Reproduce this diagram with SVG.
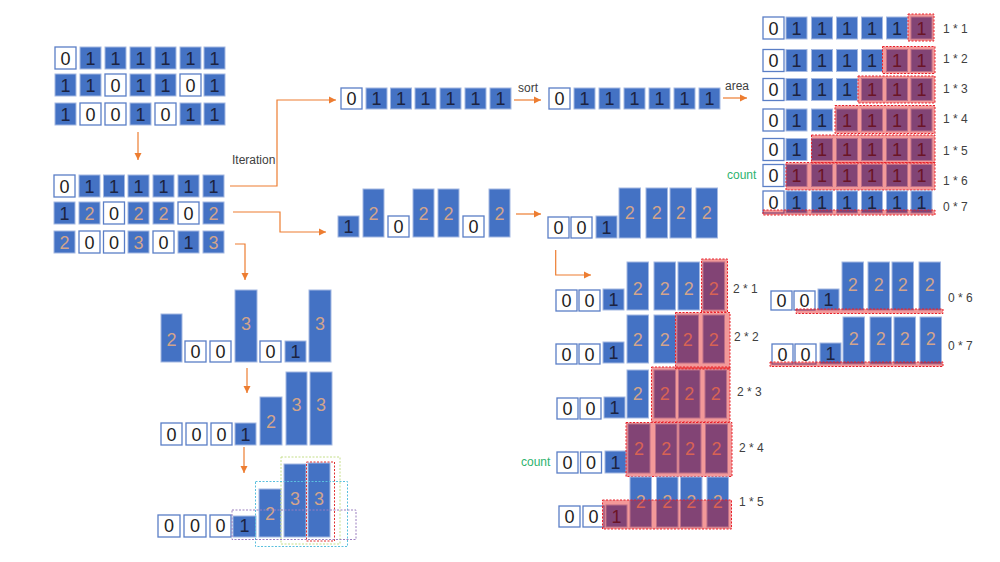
<svg xmlns="http://www.w3.org/2000/svg" width="1000" height="562" viewBox="0 0 1000 562">
<style>
text{font-family:"Liberation Sans",Arial,sans-serif}
.b{fill:#4472C4;stroke:#A3B8E2;stroke-width:1}
.w{fill:#fff;stroke:#5A7EC6;stroke-width:1.3}
.d{font-size:18px;text-anchor:middle}
.k{fill:#1C2340}
.o{fill:#D2A48C}
.z{fill:#222}
.hl{fill:#E00000;fill-opacity:0.4;stroke:#E8202A;stroke-width:1;stroke-dasharray:2 1.5}
.lb{font-size:12px;fill:#404040}
.cnt{font-size:12px;fill:#2DB36E}
.arr{fill:none;stroke:#ED7D31;stroke-width:1.2;marker-end:url(#ah)}
.bx{fill:none;stroke-width:1;stroke-dasharray:2 1.5}
</style>
<defs>
<marker id="ah" markerWidth="8" markerHeight="8" refX="7" refY="4" orient="auto" markerUnits="userSpaceOnUse">
<path d="M0,0.5 L7,4 L0,7.5 Z" fill="#ED7D31"/>
</marker>
</defs>
<rect width="1000" height="562" fill="#fff"/>

<g id="connectors">
<path class="arr" d="M138,132 V160"/>
<path class="arr" d="M230,186 H277 V100 H336"/>
<path class="arr" d="M233,212 H280 V232 H326"/>
<path class="arr" d="M235,244 H245 V280"/>
<path class="arr" d="M514,100 H541"/>
<path class="arr" d="M723,98 H747"/>
<path class="arr" d="M516,214 H541"/>
<path class="arr" d="M555.7,250 V275 H591"/>
<path class="arr" d="M247,368 V393"/>
<path class="arr" d="M244,447 V473"/>
<text class="lb" x="232" y="164">Iteration</text>
<text class="lb" x="518" y="92">sort</text>
<text class="lb" x="725" y="90">area</text>
</g>

<g id="matrix">
<rect class="w" x="55" y="47" width="21" height="22"/><text class="d z" x="65.5" y="64.5">0</text>
<rect class="b" x="80" y="47" width="21" height="22"/><text class="d k" x="90.5" y="64.5">1</text>
<rect class="b" x="105" y="47" width="21" height="22"/><text class="d k" x="115.5" y="64.5">1</text>
<rect class="b" x="130" y="47" width="21" height="22"/><text class="d k" x="140.5" y="64.5">1</text>
<rect class="b" x="155" y="47" width="21" height="22"/><text class="d k" x="165.5" y="64.5">1</text>
<rect class="b" x="180" y="47" width="21" height="22"/><text class="d k" x="190.5" y="64.5">1</text>
<rect class="b" x="204" y="47" width="21" height="22"/><text class="d k" x="214.5" y="64.5">1</text>

<rect class="b" x="55" y="74" width="21" height="22"/><text class="d k" x="65.5" y="91.5">1</text>
<rect class="b" x="80" y="74" width="21" height="22"/><text class="d k" x="90.5" y="91.5">1</text>
<rect class="w" x="105" y="74" width="21" height="22"/><text class="d z" x="115.5" y="91.5">0</text>
<rect class="b" x="130" y="74" width="21" height="22"/><text class="d k" x="140.5" y="91.5">1</text>
<rect class="b" x="155" y="74" width="21" height="22"/><text class="d k" x="165.5" y="91.5">1</text>
<rect class="w" x="180" y="74" width="21" height="22"/><text class="d z" x="190.5" y="91.5">0</text>
<rect class="b" x="204" y="74" width="21" height="22"/><text class="d k" x="214.5" y="91.5">1</text>

<rect class="b" x="55" y="103" width="21" height="22"/><text class="d k" x="65.5" y="120.5">1</text>
<rect class="w" x="80" y="103" width="21" height="22"/><text class="d z" x="90.5" y="120.5">0</text>
<rect class="w" x="105" y="103" width="21" height="22"/><text class="d z" x="115.5" y="120.5">0</text>
<rect class="b" x="130" y="103" width="21" height="22"/><text class="d k" x="140.5" y="120.5">1</text>
<rect class="w" x="155" y="103" width="21" height="22"/><text class="d z" x="165.5" y="120.5">0</text>
<rect class="b" x="180" y="103" width="21" height="22"/><text class="d k" x="190.5" y="120.5">1</text>
<rect class="b" x="204" y="103" width="21" height="22"/><text class="d k" x="214.5" y="120.5">1</text>
</g>

<g id="heights">
<rect class="w" x="54" y="175" width="21" height="22"/><text class="d z" x="64.5" y="192.5">0</text>
<rect class="b" x="79" y="175" width="21" height="22"/><text class="d k" x="89.5" y="192.5">1</text>
<rect class="b" x="103.5" y="175" width="21" height="22"/><text class="d k" x="114" y="192.5">1</text>
<rect class="b" x="128" y="175" width="21" height="22"/><text class="d k" x="138.5" y="192.5">1</text>
<rect class="b" x="153" y="175" width="21" height="22"/><text class="d k" x="163.5" y="192.5">1</text>
<rect class="b" x="178" y="175" width="21" height="22"/><text class="d k" x="188.5" y="192.5">1</text>
<rect class="b" x="203" y="175" width="21" height="22"/><text class="d k" x="213.5" y="192.5">1</text>

<rect class="b" x="54" y="202" width="21" height="22"/><text class="d k" x="64.5" y="219.5">1</text>
<rect class="b" x="79" y="202" width="21" height="22"/><text class="d o" x="89.5" y="219.5">2</text>
<rect class="w" x="103.5" y="202" width="21" height="22"/><text class="d z" x="114" y="219.5">0</text>
<rect class="b" x="128" y="202" width="21" height="22"/><text class="d o" x="138.5" y="219.5">2</text>
<rect class="b" x="153" y="202" width="21" height="22"/><text class="d o" x="163.5" y="219.5">2</text>
<rect class="w" x="178" y="202" width="21" height="22"/><text class="d z" x="188.5" y="219.5">0</text>
<rect class="b" x="203" y="202" width="21" height="22"/><text class="d o" x="213.5" y="219.5">2</text>

<rect class="b" x="54" y="231" width="21" height="22"/><text class="d o" x="64.5" y="248.5">2</text>
<rect class="w" x="79" y="231" width="21" height="22"/><text class="d z" x="89.5" y="248.5">0</text>
<rect class="w" x="103.5" y="231" width="21" height="22"/><text class="d z" x="114" y="248.5">0</text>
<rect class="b" x="128" y="231" width="21" height="22"/><text class="d o" x="138.5" y="248.5">3</text>
<rect class="w" x="153" y="231" width="21" height="22"/><text class="d z" x="163.5" y="248.5">0</text>
<rect class="b" x="178" y="231" width="21" height="22"/><text class="d k" x="188.5" y="248.5">1</text>
<rect class="b" x="203" y="231" width="21" height="22"/><text class="d o" x="213.5" y="248.5">3</text>
</g>

<g id="row1">
<rect class="w" x="341" y="88" width="21" height="21"/><text class="d z" x="351.5" y="105">0</text>
<rect class="b" x="366" y="88" width="21" height="21"/><text class="d k" x="376.5" y="105">1</text>
<rect class="b" x="390.5" y="88" width="21" height="21"/><text class="d k" x="401" y="105">1</text>
<rect class="b" x="415" y="88" width="21" height="21"/><text class="d k" x="425.5" y="105">1</text>
<rect class="b" x="440" y="88" width="21" height="21"/><text class="d k" x="450.5" y="105">1</text>
<rect class="b" x="465" y="88" width="21" height="21"/><text class="d k" x="475.5" y="105">1</text>
<rect class="b" x="490" y="88" width="21" height="21"/><text class="d k" x="500.5" y="105">1</text>
</g>

<g id="row1sorted">
<rect class="w" x="549" y="88" width="21" height="21"/><text class="d z" x="559.5" y="105">0</text>
<rect class="b" x="574" y="88" width="21" height="21"/><text class="d k" x="584.5" y="105">1</text>
<rect class="b" x="599" y="88" width="21" height="21"/><text class="d k" x="609.5" y="105">1</text>
<rect class="b" x="624" y="88" width="21" height="21"/><text class="d k" x="634.5" y="105">1</text>
<rect class="b" x="649" y="88" width="21" height="21"/><text class="d k" x="659.5" y="105">1</text>
<rect class="b" x="674" y="88" width="21" height="21"/><text class="d k" x="684.5" y="105">1</text>
<rect class="b" x="699" y="88" width="21" height="21"/><text class="d k" x="709.5" y="105">1</text>
</g>

<g id="row2">
<rect class="b" x="338" y="216" width="21" height="21"/><text class="d k" x="348.5" y="233">1</text>
<rect class="b" x="363" y="189" width="21" height="48"/><text class="d o" x="373.5" y="219.5">2</text>
<rect class="w" x="388" y="216" width="21" height="21"/><text class="d z" x="398.5" y="233">0</text>
<rect class="b" x="413" y="189" width="21" height="48"/><text class="d o" x="423.5" y="219.5">2</text>
<rect class="b" x="438" y="189" width="21" height="48"/><text class="d o" x="448.5" y="219.5">2</text>
<rect class="w" x="463" y="216" width="21" height="21"/><text class="d z" x="473.5" y="233">0</text>
<rect class="b" x="489" y="189" width="21" height="48"/><text class="d o" x="499.5" y="219.5">2</text>
</g>

<g id="row2sorted">
<rect class="w" x="548" y="217" width="21" height="21"/><text class="d z" x="558.5" y="234">0</text>
<rect class="w" x="571" y="217" width="21" height="21"/><text class="d z" x="581.5" y="234">0</text>
<rect class="b" x="596" y="216" width="21" height="22"/><text class="d k" x="606.5" y="234">1</text>
<rect class="b" x="619" y="188" width="21.5" height="50"/><text class="d o" x="629.75" y="219">2</text>
<rect class="b" x="646" y="188" width="21.5" height="50"/><text class="d o" x="656.75" y="219">2</text>
<rect class="b" x="670" y="188" width="21.5" height="50"/><text class="d o" x="680.75" y="219">2</text>
<rect class="b" x="696" y="188" width="21.5" height="50"/><text class="d o" x="706.75" y="219">2</text>
</g>

<g id="row3bars">
<rect class="b" x="161" y="314" width="21" height="48"/><text class="d o" x="171.5" y="346">2</text>
<rect class="w" x="185" y="341" width="21" height="21"/><text class="d z" x="195.5" y="358">0</text>
<rect class="w" x="210" y="341" width="21" height="21"/><text class="d z" x="220.5" y="358">0</text>
<rect class="b" x="235" y="290" width="22" height="72"/><text class="d o" x="246" y="330">3</text>
<rect class="w" x="260" y="341" width="21" height="21"/><text class="d z" x="270.5" y="358">0</text>
<rect class="b" x="285" y="341" width="21" height="21"/><text class="d k" x="295.5" y="358">1</text>
<rect class="b" x="309" y="290" width="22" height="72"/><text class="d o" x="320" y="330">3</text>
</g>

<g id="row3sorted">
<rect class="w" x="161" y="423" width="21" height="22"/><text class="d z" x="171.5" y="440.5">0</text>
<rect class="w" x="186" y="423" width="21" height="22"/><text class="d z" x="196.5" y="440.5">0</text>
<rect class="w" x="211" y="423" width="21" height="22"/><text class="d z" x="221.5" y="440.5">0</text>
<rect class="b" x="235" y="423" width="21" height="22"/><text class="d k" x="245.5" y="440.5">1</text>
<rect class="b" x="260" y="397" width="22" height="48"/><text class="d o" x="271" y="427.5">2</text>
<rect class="b" x="286" y="372" width="21" height="73"/><text class="d o" x="296.5" y="411">3</text>
<rect class="b" x="310" y="372" width="22" height="73"/><text class="d o" x="321" y="411">3</text>
</g>

<g id="row3areas">
<rect class="w" x="158" y="515" width="22" height="22"/><text class="d z" x="169" y="532">0</text>
<rect class="w" x="184" y="515" width="22" height="22"/><text class="d z" x="195" y="532">0</text>
<rect class="w" x="210" y="515" width="21" height="22"/><text class="d z" x="220.5" y="532">0</text>
<rect class="b" x="233" y="516" width="23" height="21"/><text class="d k" x="244.5" y="532">1</text>
<rect class="b" x="259" y="489" width="22" height="48"/><text class="d o" x="270" y="520">2</text>
<rect class="b" x="284" y="464" width="22" height="73"/><text class="d o" x="295" y="504.5">3</text>
<rect class="b" x="308" y="463" width="22" height="74"/><text class="d o" x="319" y="504.5">3</text>
<rect class="bx" x="281" y="457" width="59" height="87" stroke="#C5DE8A"/>
<rect class="bx" x="306.5" y="462" width="28" height="79" stroke="#E03030"/>
<rect class="bx" x="255.5" y="481.5" width="92" height="65" stroke="#5BC0DE"/>
<rect class="bx" x="232" y="510" width="124" height="29.5" stroke="#9A7FBF"/>
</g>

<g id="area1">
<rect class="w" x="763" y="17" width="21" height="22"/><text class="d z" x="773.5" y="34.5">0</text>
<rect class="b" x="786" y="17" width="21" height="22"/><text class="d k" x="796.5" y="34.5">1</text>
<rect class="b" x="811.5" y="17" width="21" height="22"/><text class="d k" x="822" y="34.5">1</text>
<rect class="b" x="836.5" y="17" width="21" height="22"/><text class="d k" x="847" y="34.5">1</text>
<rect class="b" x="861.5" y="17" width="21" height="22"/><text class="d k" x="872" y="34.5">1</text>
<rect class="b" x="886.5" y="17" width="21" height="22"/><text class="d k" x="897" y="34.5">1</text>
<rect class="b" x="911" y="17" width="21" height="22"/><text class="d k" x="921.5" y="34.5">1</text>
<rect class="hl" x="908" y="14" width="26" height="27"/>
<text class="lb" x="943" y="33">1 * 1</text>
</g>
<g id="area2">
<rect class="w" x="763" y="49.5" width="21" height="22"/><text class="d z" x="773.5" y="67">0</text>
<rect class="b" x="786" y="49.5" width="21" height="22"/><text class="d k" x="796.5" y="67">1</text>
<rect class="b" x="811.5" y="49.5" width="21" height="22"/><text class="d k" x="822" y="67">1</text>
<rect class="b" x="836.5" y="49.5" width="21" height="22"/><text class="d k" x="847" y="67">1</text>
<rect class="b" x="861.5" y="49.5" width="21" height="22"/><text class="d k" x="872" y="67">1</text>
<rect class="b" x="886.5" y="49.5" width="21" height="22"/><text class="d k" x="897" y="67">1</text>
<rect class="b" x="911" y="49.5" width="21" height="22"/><text class="d k" x="921.5" y="67">1</text>
<rect class="hl" x="882.5" y="46.5" width="52.5" height="27"/>
<text class="lb" x="943" y="63">1 * 2</text>
</g>
<g id="area3">
<rect class="w" x="763" y="78.5" width="21" height="22"/><text class="d z" x="773.5" y="96">0</text>
<rect class="b" x="786" y="78.5" width="21" height="22"/><text class="d k" x="796.5" y="96">1</text>
<rect class="b" x="811.5" y="78.5" width="21" height="22"/><text class="d k" x="822" y="96">1</text>
<rect class="b" x="836.5" y="78.5" width="21" height="22"/><text class="d k" x="847" y="96">1</text>
<rect class="b" x="861.5" y="78.5" width="21" height="22"/><text class="d k" x="872" y="96">1</text>
<rect class="b" x="886.5" y="78.5" width="21" height="22"/><text class="d k" x="897" y="96">1</text>
<rect class="b" x="911" y="78.5" width="21" height="22"/><text class="d k" x="921.5" y="96">1</text>
<rect class="hl" x="858" y="76" width="77" height="27"/>
<text class="lb" x="943" y="93">1 * 3</text>
</g>
<g id="area4">
<rect class="w" x="763" y="109" width="21" height="22"/><text class="d z" x="773.5" y="126.5">0</text>
<rect class="b" x="786" y="109" width="21" height="22"/><text class="d k" x="796.5" y="126.5">1</text>
<rect class="b" x="811.5" y="109" width="21" height="22"/><text class="d k" x="822" y="126.5">1</text>
<rect class="b" x="836.5" y="109" width="21" height="22"/><text class="d k" x="847" y="126.5">1</text>
<rect class="b" x="861.5" y="109" width="21" height="22"/><text class="d k" x="872" y="126.5">1</text>
<rect class="b" x="886.5" y="109" width="21" height="22"/><text class="d k" x="897" y="126.5">1</text>
<rect class="b" x="911" y="109" width="21" height="22"/><text class="d k" x="921.5" y="126.5">1</text>
<rect class="hl" x="835" y="105.5" width="100" height="28"/>
<text class="lb" x="943" y="123">1 * 4</text>
</g>
<g id="area5">
<rect class="w" x="763" y="138.5" width="21" height="22"/><text class="d z" x="773.5" y="156">0</text>
<rect class="b" x="786" y="138.5" width="21" height="22"/><text class="d k" x="796.5" y="156">1</text>
<rect class="b" x="811.5" y="138.5" width="21" height="22"/><text class="d k" x="822" y="156">1</text>
<rect class="b" x="836.5" y="138.5" width="21" height="22"/><text class="d k" x="847" y="156">1</text>
<rect class="b" x="861.5" y="138.5" width="21" height="22"/><text class="d k" x="872" y="156">1</text>
<rect class="b" x="886.5" y="138.5" width="21" height="22"/><text class="d k" x="897" y="156">1</text>
<rect class="b" x="911" y="138.5" width="21" height="22"/><text class="d k" x="921.5" y="156">1</text>
<rect class="hl" x="811.5" y="135" width="123.5" height="28"/>
<text class="lb" x="943" y="155">1 * 5</text>
</g>
<g id="area6">
<text class="cnt" x="727" y="179">count</text>
<rect class="w" x="763" y="164.5" width="21" height="22"/><text class="d z" x="773.5" y="182">0</text>
<rect class="b" x="786" y="164.5" width="21" height="22"/><text class="d k" x="796.5" y="182">1</text>
<rect class="b" x="811.5" y="164.5" width="21" height="22"/><text class="d k" x="822" y="182">1</text>
<rect class="b" x="836.5" y="164.5" width="21" height="22"/><text class="d k" x="847" y="182">1</text>
<rect class="b" x="861.5" y="164.5" width="21" height="22"/><text class="d k" x="872" y="182">1</text>
<rect class="b" x="886.5" y="164.5" width="21" height="22"/><text class="d k" x="897" y="182">1</text>
<rect class="b" x="911" y="164.5" width="21" height="22"/><text class="d k" x="921.5" y="182">1</text>
<rect class="hl" x="786" y="162.5" width="149" height="27.5"/>
<text class="lb" x="943" y="185">1 * 6</text>
</g>
<g id="area7">
<rect class="w" x="763" y="191" width="21" height="22"/><text class="d z" x="773.5" y="208.5">0</text>
<rect class="b" x="786" y="191" width="21" height="22"/><text class="d k" x="796.5" y="208.5">1</text>
<rect class="b" x="811.5" y="191" width="21" height="22"/><text class="d k" x="822" y="208.5">1</text>
<rect class="b" x="836.5" y="191" width="21" height="22"/><text class="d k" x="847" y="208.5">1</text>
<rect class="b" x="861.5" y="191" width="21" height="22"/><text class="d k" x="872" y="208.5">1</text>
<rect class="b" x="886.5" y="191" width="21" height="22"/><text class="d k" x="897" y="208.5">1</text>
<rect class="b" x="911" y="191" width="21" height="22"/><text class="d k" x="921.5" y="208.5">1</text>
<rect class="hl" x="763" y="210" width="172" height="5"/>
<text class="lb" x="943" y="211">0 * 7</text>
</g>

<g id="areaA">
<rect class="w" x="556" y="290" width="21" height="21"/><text class="d z" x="566.5" y="307">0</text>
<rect class="w" x="579" y="290" width="21" height="21"/><text class="d z" x="589.5" y="307">0</text>
<rect class="b" x="603" y="289" width="21" height="21"/><text class="d k" x="613.5" y="306">1</text>
<rect class="b" x="627" y="262" width="21.5" height="48"/><text class="d o" x="637.75" y="295">2</text>
<rect class="b" x="654" y="262" width="21.5" height="48"/><text class="d o" x="664.75" y="295">2</text>
<rect class="b" x="678" y="262" width="21.5" height="48"/><text class="d o" x="688.75" y="295">2</text>
<rect class="b" x="703" y="262" width="21.5" height="48"/><text class="d o" x="713.75" y="295">2</text>
<rect class="hl" x="701.5" y="259" width="26" height="53"/>
<text class="lb" x="733" y="293">2 * 1</text>
</g>
<g id="areaB">
<rect class="w" x="556" y="344" width="21" height="20"/><text class="d z" x="566.5" y="360.5">0</text>
<rect class="w" x="579" y="344" width="21" height="20"/><text class="d z" x="589.5" y="360.5">0</text>
<rect class="b" x="603" y="342" width="21" height="21"/><text class="d k" x="613.5" y="359">1</text>
<rect class="b" x="627" y="315" width="21.5" height="48"/><text class="d o" x="637.75" y="346">2</text>
<rect class="b" x="654" y="315" width="21.5" height="48"/><text class="d o" x="664.75" y="346">2</text>
<rect class="b" x="677" y="315" width="21.5" height="48"/><text class="d o" x="687.75" y="346">2</text>
<rect class="b" x="703" y="315" width="21.5" height="48"/><text class="d o" x="713.75" y="346">2</text>
<rect class="hl" x="675.5" y="312.5" width="54.5" height="56.5"/>
<text class="lb" x="734" y="341">2 * 2</text>
</g>
<g id="areaC">
<rect class="w" x="557" y="398" width="21" height="21"/><text class="d z" x="567.5" y="415">0</text>
<rect class="w" x="580" y="398" width="21" height="21"/><text class="d z" x="590.5" y="415">0</text>
<rect class="b" x="604" y="397" width="21" height="21"/><text class="d k" x="614.5" y="414">1</text>
<rect class="b" x="627" y="370" width="21.5" height="48"/><text class="d o" x="637.75" y="400">2</text>
<rect class="b" x="654" y="370" width="21.5" height="48"/><text class="d o" x="664.75" y="400">2</text>
<rect class="b" x="678.5" y="370" width="21.5" height="48"/><text class="d o" x="689.25" y="400">2</text>
<rect class="b" x="705" y="370" width="21.5" height="48"/><text class="d o" x="715.75" y="400">2</text>
<rect class="hl" x="651.5" y="367" width="78.5" height="55"/>
<text class="lb" x="737" y="396">2 * 3</text>
</g>
<g id="areaD">
<text class="cnt" x="521" y="466">count</text>
<rect class="w" x="557" y="452" width="21" height="21"/><text class="d z" x="567.5" y="469">0</text>
<rect class="w" x="580.5" y="452" width="21" height="21"/><text class="d z" x="591" y="469">0</text>
<rect class="b" x="605" y="451" width="21" height="22"/><text class="d k" x="615.5" y="469">1</text>
<rect class="b" x="628" y="424" width="22" height="49"/><text class="d o" x="639" y="455">2</text>
<rect class="b" x="655.5" y="424" width="21.5" height="49"/><text class="d o" x="666.25" y="455">2</text>
<rect class="b" x="679" y="424" width="22" height="49"/><text class="d o" x="690" y="455">2</text>
<rect class="b" x="705.5" y="424" width="22" height="49"/><text class="d o" x="716.5" y="455">2</text>
<rect class="hl" x="626" y="422.5" width="106" height="54"/>
<text class="lb" x="739" y="452">2 * 4</text>
</g>
<g id="areaE">
<rect class="w" x="559" y="506" width="21" height="21"/><text class="d z" x="569.5" y="523">0</text>
<rect class="w" x="583" y="506" width="21" height="21"/><text class="d z" x="593.5" y="523">0</text>
<rect class="b" x="606" y="505" width="21" height="22"/><text class="d k" x="616.5" y="523">1</text>
<rect class="b" x="630" y="477" width="21.5" height="50"/><text class="d o" x="640.75" y="508">2</text>
<rect class="b" x="656.5" y="477" width="21.5" height="50"/><text class="d o" x="667.25" y="508">2</text>
<rect class="b" x="680.5" y="477" width="21.5" height="50"/><text class="d o" x="691.25" y="508">2</text>
<rect class="b" x="707" y="477" width="21.5" height="50"/><text class="d o" x="717.75" y="508">2</text>
<rect class="hl" x="602.5" y="500" width="129" height="29"/>
<text class="lb" x="739" y="506">1 * 5</text>
</g>

<g id="areaF">
<rect class="w" x="771" y="291" width="21" height="19"/><text class="d z" x="781.5" y="307">0</text>
<rect class="w" x="794" y="291" width="21" height="19"/><text class="d z" x="804.5" y="307">0</text>
<rect class="b" x="818" y="289" width="21" height="21"/><text class="d k" x="828.5" y="306">1</text>
<rect class="b" x="842" y="262" width="21.5" height="48"/><text class="d o" x="852.75" y="291">2</text>
<rect class="b" x="868" y="262" width="21.5" height="48"/><text class="d o" x="878.75" y="291">2</text>
<rect class="b" x="892" y="262" width="21.5" height="48"/><text class="d o" x="902.75" y="291">2</text>
<rect class="b" x="919" y="262" width="21.5" height="48"/><text class="d o" x="929.75" y="291">2</text>
<rect class="hl" x="796" y="309" width="147" height="4.5"/>
<text class="lb" x="948" y="302">0 * 6</text>
</g>
<g id="areaG">
<rect class="w" x="772" y="344" width="21" height="20"/><text class="d z" x="782.5" y="360.5">0</text>
<rect class="w" x="795" y="344" width="21" height="20"/><text class="d z" x="805.5" y="360.5">0</text>
<rect class="b" x="820" y="343" width="21" height="21"/><text class="d k" x="830.5" y="360">1</text>
<rect class="b" x="843" y="317" width="21.5" height="47"/><text class="d o" x="853.75" y="345">2</text>
<rect class="b" x="870" y="317" width="21.5" height="47"/><text class="d o" x="880.75" y="345">2</text>
<rect class="b" x="894" y="317" width="21.5" height="47"/><text class="d o" x="904.75" y="345">2</text>
<rect class="b" x="920" y="317" width="21.5" height="47"/><text class="d o" x="930.75" y="345">2</text>
<rect class="hl" x="770" y="362" width="173" height="4.5"/>
<text class="lb" x="948" y="350">0 * 7</text>
</g>
</svg>
